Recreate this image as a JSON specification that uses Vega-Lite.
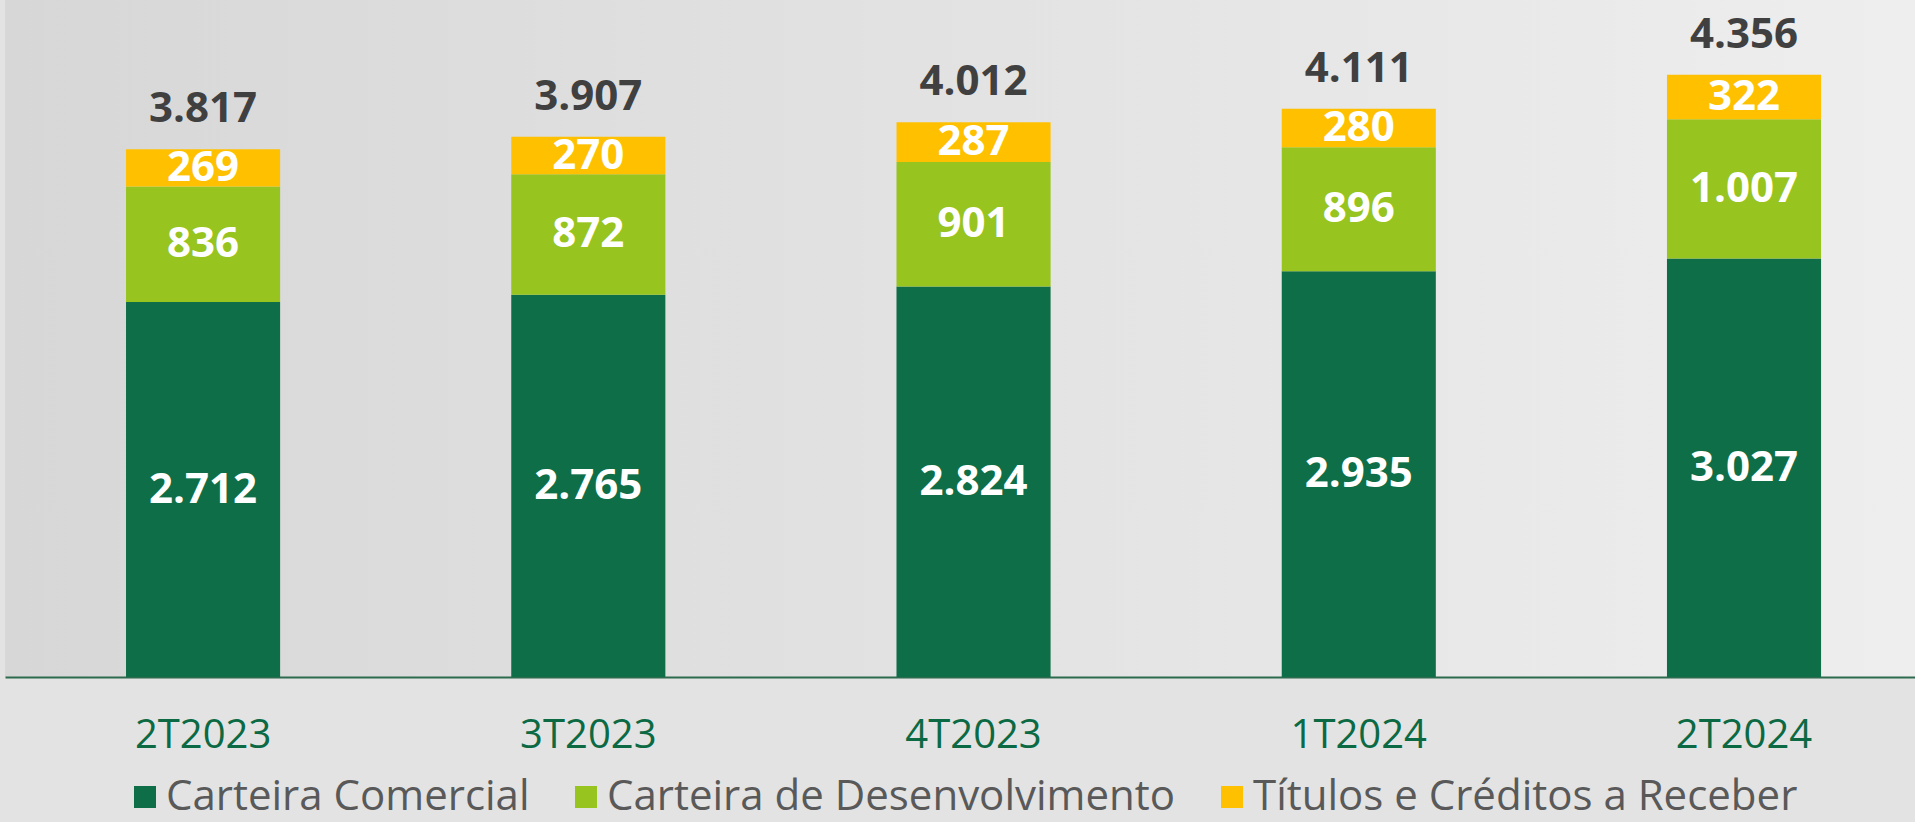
{
  "$schema": "https://vega.github.io/schema/vega-lite/v6.json",
  "width": 1910,
  "height": 677,
  "autosize": {"type": "none"},
  "padding": {"left": 5, "top": 0, "right": 0, "bottom": 145},
  "background": "#e3e3e3",
  "config": {
    "view": {"stroke": null, "fill": {"gradient": "linear", "x1": 0, "y1": 0, "x2": 1, "y2": 0, "stops": [{"offset": 0, "color": "#d7d7d7"}, {"offset": 1, "color": "#eeeeee"}]}},
    "font": "Open Sans",
    "locale": {"number": {"decimal": ",", "thousands": ".", "grouping": [3], "currency": ["R$ ", ""]}}
  },
  "data": {
    "values": [
      {"trimestre": "2T2023", "serie": "Carteira Comercial", "valor": 2712},
      {"trimestre": "2T2023", "serie": "Carteira de Desenvolvimento", "valor": 836},
      {"trimestre": "2T2023", "serie": "Títulos e Créditos a Receber", "valor": 269},
      {"trimestre": "3T2023", "serie": "Carteira Comercial", "valor": 2765},
      {"trimestre": "3T2023", "serie": "Carteira de Desenvolvimento", "valor": 872},
      {"trimestre": "3T2023", "serie": "Títulos e Créditos a Receber", "valor": 270},
      {"trimestre": "4T2023", "serie": "Carteira Comercial", "valor": 2824},
      {"trimestre": "4T2023", "serie": "Carteira de Desenvolvimento", "valor": 901},
      {"trimestre": "4T2023", "serie": "Títulos e Créditos a Receber", "valor": 287},
      {"trimestre": "1T2024", "serie": "Carteira Comercial", "valor": 2935},
      {"trimestre": "1T2024", "serie": "Carteira de Desenvolvimento", "valor": 896},
      {"trimestre": "1T2024", "serie": "Títulos e Créditos a Receber", "valor": 280},
      {"trimestre": "2T2024", "serie": "Carteira Comercial", "valor": 3027},
      {"trimestre": "2T2024", "serie": "Carteira de Desenvolvimento", "valor": 1007},
      {"trimestre": "2T2024", "serie": "Títulos e Créditos a Receber", "valor": 322}
    ]
  },
  "encoding": {
    "x": {
      "field": "trimestre",
      "type": "nominal",
      "sort": ["2T2023", "3T2023", "4T2023", "1T2024", "2T2024"],
      "scale": {"paddingInner": 0.6, "paddingOuter": 0.279, "align": 0.563},
      "axis": {
        "title": null,
        "labelAngle": 0,
        "domain": true,
        "domainColor": "#2d6b4f",
        "domainWidth": 2,
        "ticks": false,
        "tickSize": 0,
        "grid": false,
        "labelPadding": 70,
        "labelBaseline": "alphabetic",
        "labelFontSize": 40,
        "labelFont": "Open Sans",
        "labelColor": "#0b6a43"
      }
    }
  },
  "layer": [
    {
      "mark": {"type": "bar"},
      "encoding": {
        "y": {
          "field": "valor",
          "type": "quantitative",
          "stack": "zero",
          "scale": {"domain": [0, 4897], "nice": false, "zero": true},
          "axis": null
        },
        "order": {"field": "serie", "type": "nominal", "sort": "ascending"},
        "color": {
          "field": "serie",
          "type": "nominal",
          "scale": {
            "domain": ["Carteira Comercial", "Carteira de Desenvolvimento", "Títulos e Créditos a Receber"],
            "range": ["#0e6e47", "#97c41e", "#ffc000"]
          },
          "legend": {
            "orient": "none",
            "legendX": 119,
            "legendY": 776,
            "direction": "horizontal",
            "title": null,
            "labelFontSize": 42,
            "labelFont": "Open Sans",
            "labelColor": "#595959",
            "symbolType": "square",
            "symbolSize": 484,
            "symbolStrokeWidth": 0,
            "symbolOpacity": 1,
            "labelOffset": 0,
            "columnPadding": 35,
            "labelLimit": 1000
          }
        }
      }
    },
    {
      "mark": {"type": "text", "color": "white", "fontWeight": "bold", "fontSize": 42, "baseline": "middle", "font": "Open Sans"},
      "encoding": {
        "y": {"field": "valor", "type": "quantitative", "stack": "zero", "bandPosition": 0.5},
        "order": {"field": "serie", "type": "nominal", "sort": "ascending"},
        "detail": {"field": "serie", "type": "nominal"},
        "text": {"field": "valor", "type": "quantitative", "format": ",d"}
      }
    },
    {
      "transform": [
        {"aggregate": [{"op": "sum", "field": "valor", "as": "total"}], "groupby": ["trimestre"]}
      ],
      "mark": {"type": "text", "color": "#404040", "fontWeight": "bold", "fontSize": 42, "baseline": "alphabetic", "dy": -27, "font": "Open Sans"},
      "encoding": {
        "y": {"field": "total", "type": "quantitative"},
        "text": {"field": "total", "type": "quantitative", "format": ",d"}
      }
    }
  ]
}
